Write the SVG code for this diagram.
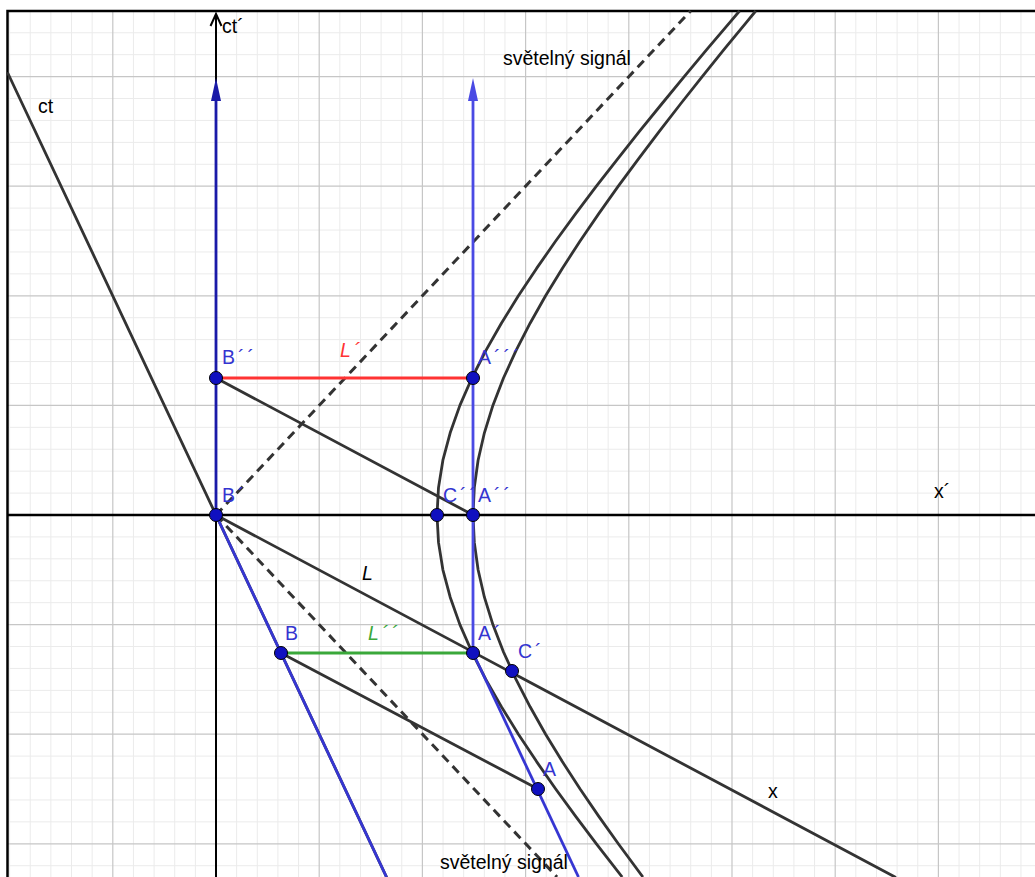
<svg xmlns="http://www.w3.org/2000/svg" width="1035" height="877" viewBox="0 0 1035 877">
<style>
.minor{stroke:#ebebeb;stroke-width:1;fill:none}
.major{stroke:#c6c6c6;stroke-width:1.2;fill:none}
.ln{stroke:#333;stroke-width:2.8;fill:none;stroke-linecap:round}
.dash{stroke:#333;stroke-width:3;fill:none;stroke-dasharray:9,6}
.hyp{stroke:#333;stroke-width:2.8;fill:none;stroke-linejoin:round}
.blue{stroke:#3636d2;stroke-width:2.8;fill:none}
.pt{fill:#1010c0;stroke:#000;stroke-width:1}
text{font-family:"Liberation Sans",Arial,sans-serif;font-size:19.5px}
.lab{fill:#3434d0}
.acc{letter-spacing:3px}
</style>
<rect x="0" y="0" width="1035" height="877" fill="#fff"/>
<g id="grid">
<path class="minor" d="M9.6 11V877M30.24 11V877M50.88 11V877M71.52 11V877M92.16 11V877M133.44 11V877M154.08 11V877M174.72 11V877M195.36 11V877M236.64 11V877M257.28 11V877M277.92 11V877M298.56 11V877M339.84 11V877M360.48 11V877M381.12 11V877M401.76 11V877M443.04 11V877M463.68 11V877M484.32 11V877M504.96 11V877M546.24 11V877M566.88 11V877M587.52 11V877M608.16 11V877M649.44 11V877M670.08 11V877M690.72 11V877M711.36 11V877M752.64 11V877M773.28 11V877M793.92 11V877M814.56 11V877M855.84 11V877M876.48 11V877M897.12 11V877M917.76 11V877M959.04 11V877M979.68 11V877M1000.32 11V877M1020.96 11V877
M8 32.76H1035M8 54.68H1035M8 98.52H1035M8 120.44H1035M8 142.36H1035M8 164.28H1035M8 208.12H1035M8 230.04H1035M8 251.96H1035M8 273.88H1035M8 317.72H1035M8 339.64H1035M8 361.56H1035M8 383.48H1035M8 427.32H1035M8 449.24H1035M8 471.16H1035M8 493.08H1035M8 536.92H1035M8 558.84H1035M8 580.76H1035M8 602.68H1035M8 646.52H1035M8 668.44H1035M8 690.36H1035M8 712.28H1035M8 756.12H1035M8 778.04H1035M8 799.96H1035M8 821.88H1035M8 865.72H1035"/>
<path class="major" d="M112.8 11V877M319.2 11V877M422.4 11V877M525.6 11V877M628.8 11V877M732 11V877M835.2 11V877M938.4 11V877M8 76.6H1035M8 186.2H1035M8 295.8H1035M8 405.4H1035M8 624.6H1035M8 734.2H1035M8 843.8H1035"/>
<path d="M7.5 877V11H1035" stroke="#000" stroke-width="2.5" fill="none"/>
</g>
<g id="connectors">
<path d="M8 515H1035" stroke="#000" stroke-width="2.5"/>
<path d="M216 877V14" stroke="#000" stroke-width="2"/>
<path d="M210.5 26L216 14L221.5 26" stroke="#000" stroke-width="2" fill="none"/>
<path class="ln" d="M8 73.5L386.5 877"/>
<path class="ln" d="M216 515L895 877"/>
<path class="ln" d="M216 378L473 515"/>
<path class="ln" d="M281 653L538 789"/>
<path class="dash" d="M216 515L690.6 11"/>
<path class="dash" d="M216 515L557 877"/>
<path class="hyp" d="M739.5 11L730.3 21.8L707.1 49.2L684.2 76.6L661.7 104L639.4 131.4L617.7 158.8L596.4 186.2L575.7 213.6L555.7 241L536.6 268.4L518.4 295.8L501.4 323.2L485.8 350.6L471.9 378L459.9 405.4L450.2 432.8L442.9 460.2L438.5 487.6L437 515L438.5 542.4L442.9 569.8L450.2 597.2L459.9 624.6L471.9 652L485.8 679.4L501.4 706.8L518.4 734.2L536.6 761.6L555.7 789L575.7 816.4L596.4 843.8L622.2 877"/>
<path class="hyp" d="M755.7 11L746.8 21.8L724.3 49.2L702.2 76.6L680.5 104L659.3 131.4L638.5 158.8L618.3 186.2L598.8 213.6L580.1 241L562.3 268.4L545.6 295.8L530.1 323.2L516 350.6L503.5 378L492.9 405.4L484.4 432.8L478.1 460.2L474.3 487.6L473 515L474.3 542.4L478.1 569.8L484.4 597.2L492.9 624.6L503.5 652L516 679.4L530.1 706.8L545.6 734.2L562.3 761.6L580.1 789L598.8 816.4L618.3 843.8L642.9 877"/>
<path d="M216 515V98" stroke="#1a1aa8" stroke-width="2.8"/>
<path d="M216 78L211 101L221 101Z" fill="#1a1aa8"/>
<path d="M473 653V98" stroke="#4a4ae4" stroke-width="2.8"/>
<path d="M473 78L468 101L478 101Z" fill="#4a4ae4"/>
<path class="blue" d="M216 515L386.5 877"/>
<path class="blue" d="M473 653L578.5 877"/>
<path d="M216 378H473" stroke="#ff3333" stroke-width="3"/>
<path d="M281 653H473" stroke="#3aa83a" stroke-width="3"/>
</g>
<g id="node-Bpp"><circle class="pt" cx="216" cy="378" r="6.5"/><text class="lab acc" x="222" y="364">B´´</text></g>
<g id="node-Appp"><circle class="pt" cx="473" cy="378" r="6.5"/><text class="lab acc" x="478" y="364">A´´´</text></g>
<g id="node-Bp"><circle class="pt" cx="216" cy="515" r="6.5"/><text class="lab acc" x="222" y="502">B´</text></g>
<g id="node-Cpp"><circle class="pt" cx="437" cy="515" r="6.5"/><text class="lab acc" x="443" y="502">C´´</text></g>
<g id="node-App"><circle class="pt" cx="473" cy="515" r="6.5"/><text class="lab acc" x="478" y="502">A´´</text></g>
<g id="node-B"><circle class="pt" cx="281" cy="653" r="6.5"/><text class="lab" x="285" y="640">B</text></g>
<g id="node-Ap"><circle class="pt" cx="473" cy="653" r="6.5"/><text class="lab acc" x="478" y="640">A´</text></g>
<g id="node-Cp"><circle class="pt" cx="512" cy="671" r="6.5"/><text class="lab acc" x="518" y="658">C´</text></g>
<g id="node-A"><circle class="pt" cx="538" cy="789" r="6.5"/><text class="lab" x="543" y="776">A</text></g>
<g id="labels">
<text x="222" y="33">ct´</text>
<text x="38" y="113">ct</text>
<text x="503" y="65">světelný signál</text>
<text x="440" y="869">světelný signál</text>
<text x="934" y="498">x´</text>
<text x="768" y="798">x</text>
<text class="acc" x="340" y="357" fill="#ff3333" font-style="italic">L´</text>
<text x="362" y="580" font-style="italic">L</text>
<text class="acc" x="368" y="640" fill="#3aa83a" font-style="italic">L´´</text>
</g>
</svg>
